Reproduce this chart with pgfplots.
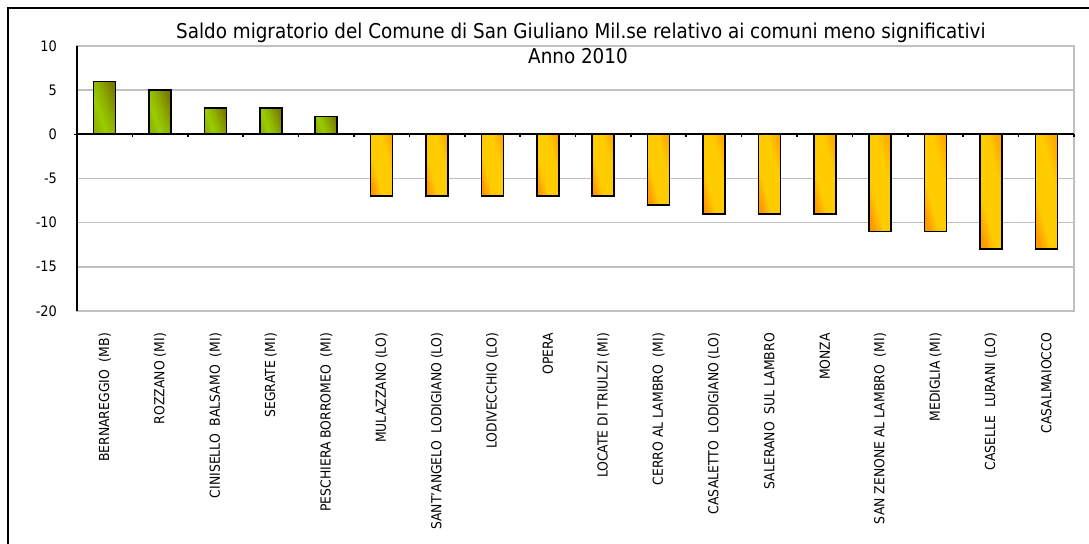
\documentclass[border=0pt]{standalone}
\usepackage{fontspec}
\setmainfont{DejaVu Sans Condensed}
\usepackage{pgfplots}
\pgfplotsset{compat=1.18}
\definecolor{gdark}{HTML}{7A7A00}
\definecolor{glight}{HTML}{99CC00}
\definecolor{oleft}{HTML}{FF9900}
\definecolor{oright}{HTML}{FFCC00}
\definecolor{oedge}{HTML}{FFAA00}
\definecolor{gridg}{HTML}{C0C0C0}
\pgfdeclarehorizontalshading{obarshade}{100bp}{color(0bp)=(oleft); color(25bp)=(oleft); color(38bp)=(oright); color(62bp)=(oright); color(75bp)=(oedge); color(100bp)=(oedge)}
\pgfdeclarehorizontalshading{gbarshade}{100bp}{color(0bp)=(glight!70!gdark); color(25bp)=(glight!70!gdark); color(38bp)=(glight); color(52bp)=(glight!70!gdark); color(75bp)=(gdark); color(100bp)=(gdark)}
\pgfplotsset{
  gbar/.style={ybar, bar width=11pt, bar shift=0pt, draw=black, line width=0.75pt, shading=gbarshade, shading angle=20},
  obar/.style={ybar, bar width=11pt, bar shift=0pt, draw=black, line width=0.75pt, shading=obarshade, shading angle=15},
}
\begin{document}
\begin{tikzpicture}
\useasboundingbox (0,0) rectangle (544.5pt,-271.5pt);
\draw[line width=1pt] (4pt,-272pt) -- (4pt,-4pt) -- (545pt,-4pt);
\node[anchor=base,font=\fontsize{10.2}{12}\selectfont] at (290.5pt,-19.15pt) {Saldo migratorio del Comune di San Giuliano Mil.se relativo ai comuni meno significativi};
\node[anchor=base,font=\fontsize{10.2}{12}\selectfont] at (289pt,-31.65pt) {Anno 2010};
\begin{axis}[
  at={(38.5pt,-155.5pt)}, anchor=south west,
  scale only axis, width=498.5pt, height=132.5pt,
  xmin=-0.5, xmax=17.5, ymin=-20, ymax=10,
  ytick={-20,-15,...,10},
  xtick={0,...,17},
  xticklabels={BERNAREGGIO\ \ (MB), ROZZANO (MI), CINISELLO\ \ BALSAMO\ \ (MI), SEGRATE (MI), PESCHIERA BORROMEO\ \ (MI), MULAZZANO (LO), SANT'ANGELO\ \ LODIGIANO (LO), LODIVECCHIO (LO), OPERA, LOCATE DI TRIULZI (MI), CERRO AL LAMBRO\ \ (MI), CASALETTO\ \ LODIGIANO (LO), SALERANO\ \ SUL LAMBRO, MONZA, SAN ZENONE AL LAMBRO\ \ (MI), MEDIGLIA (MI), CASELLE\ \ LURANI (LO), CASALMAIOCCO},
  xticklabel style={rotate=90, anchor=east, xshift=-7.5pt, font=\fontsize{6.9}{8}\selectfont},
  yticklabel style={xshift=-6.5pt, font=\fontsize{7.2}{8}\selectfont},
  /pgf/number format/assume math mode=true,
  major tick length=0pt,
  ymajorgrids, grid style={gridg, line width=0.75pt},
  axis line style={gridg, line width=1pt},
  clip=false,
]
\addplot[gbar] coordinates {(0,6)};
\addplot[gbar] coordinates {(1,5)};
\addplot[gbar] coordinates {(2,3)};
\addplot[gbar] coordinates {(3,3)};
\addplot[gbar] coordinates {(4,2)};
\addplot[obar] coordinates {(5,-7)};
\addplot[obar] coordinates {(6,-7)};
\addplot[obar] coordinates {(7,-7)};
\addplot[obar] coordinates {(8,-7)};
\addplot[obar] coordinates {(9,-7)};
\addplot[obar] coordinates {(10,-8)};
\addplot[obar] coordinates {(11,-9)};
\addplot[obar] coordinates {(12,-9)};
\addplot[obar] coordinates {(13,-9)};
\addplot[obar] coordinates {(14,-11)};
\addplot[obar] coordinates {(15,-11)};
\addplot[obar] coordinates {(16,-13)};
\addplot[obar] coordinates {(17,-13)};
\draw[black, line width=1pt] (axis cs:-0.5,-20) -- (axis cs:-0.5,10);
\draw[black, line width=1pt] (axis cs:-0.5,0) -- (axis cs:17.5,0);
\draw[black, line width=0.8pt] (axis cs:-0.5,0) -- ([xshift=-1.5pt]axis cs:-0.5,0);
\pgfplotsinvokeforeach{0.5,1.5,...,17.5}{\draw[black, line width=0.8pt] (axis cs:#1,0) -- ([yshift=-1.5pt]axis cs:#1,0);}
\end{axis}
\end{tikzpicture}
\end{document}
